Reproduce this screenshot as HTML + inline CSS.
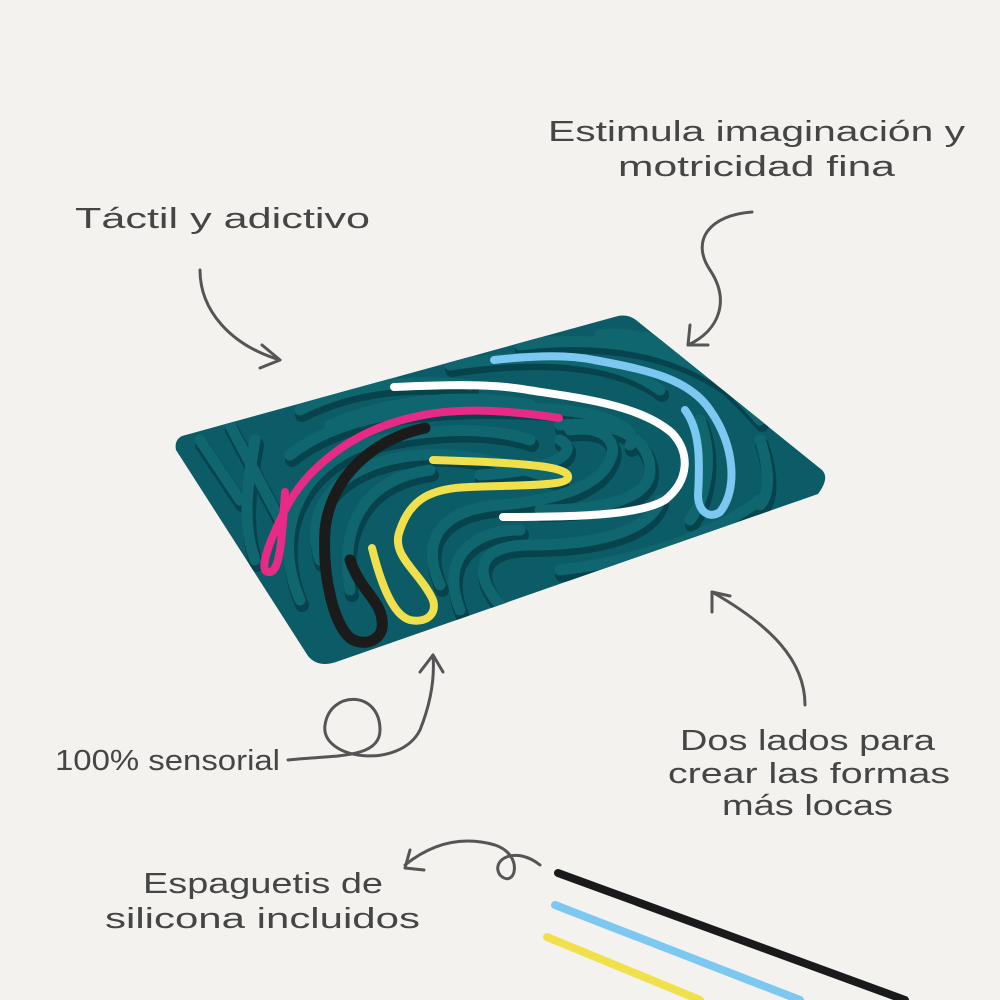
<!DOCTYPE html>
<html><head><meta charset="utf-8"><style>
html,body{margin:0;padding:0;background:#f3f2ef;}
svg{display:block}
text{font-family:"Liberation Sans",sans-serif;fill:#454545;font-size:29px}
</style></head><body>
<svg width="1000" height="1000" viewBox="0 0 1000 1000">
<defs>
<clipPath id="b"><path d="M182,436 L618,316 Q628,314 636,320 L822,470 Q830,478 818,494 L336,662 Q318,668 308,656 L176,450 Q174,440 182,436 Z"/></clipPath>
</defs>
<rect width="1000" height="1000" fill="#f3f2ef"/>
<path d="M182,436 L618,316 Q628,314 636,320 L822,470 Q830,478 818,494 L336,662 Q318,668 308,656 L176,450 Q174,440 182,436 Z" fill="#0c5c67"/>
<g clip-path="url(#b)" fill="none" stroke-linecap="round">
<g stroke="#06434c" stroke-width="14" transform="translate(2,5)">
<path d="M200,440 L240,500"/><path d="M230,425 L280,520"/><path d="M255,440 C250,470 240,520 255,560"/>
<path d="M300,410 C360,380 420,380 470,385"/><path d="M330,425 C400,395 480,395 530,405"/>
<path d="M290,455 C340,415 430,400 560,410 C620,415 640,435 630,445"/>
<path d="M300,600 C270,530 300,460 380,440 C450,425 500,430 530,440"/>
<path d="M320,560 C300,500 350,460 420,455 C480,452 520,470 560,480"/>
<path d="M350,590 C340,530 360,480 430,470"/>
<path d="M440,585 C420,540 440,510 500,505 C560,500 600,485 610,460 C620,440 600,425 570,430"/>
<path d="M460,610 C440,560 470,530 520,530"/><path d="M500,605 C470,570 480,545 530,545 C600,545 650,530 660,500"/>
<path d="M540,600 L610,575"/><path d="M560,425 C620,420 650,440 650,470 C650,500 600,510 540,510"/>
<path d="M450,365 C550,350 620,360 660,390"/><path d="M520,345 C600,335 680,345 740,395"/>
<path d="M600,335 C650,330 700,350 760,420"/><path d="M700,420 C715,460 705,500 690,520"/>
<path d="M760,440 C770,470 770,495 760,505"/><path d="M560,570 C650,560 720,530 760,500"/>
<path d="M600,590 C700,570 760,540 800,505"/><path d="M480,475 C560,470 580,450 560,440"/>
</g>
<g stroke="#10666f" stroke-width="11">
<path d="M200,440 L240,500"/><path d="M230,425 L280,520"/><path d="M255,440 C250,470 240,520 255,560"/>
<path d="M300,410 C360,380 420,380 470,385"/><path d="M330,425 C400,395 480,395 530,405"/>
<path d="M290,455 C340,415 430,400 560,410 C620,415 640,435 630,445"/>
<path d="M300,600 C270,530 300,460 380,440 C450,425 500,430 530,440"/>
<path d="M320,560 C300,500 350,460 420,455 C480,452 520,470 560,480"/>
<path d="M350,590 C340,530 360,480 430,470"/>
<path d="M440,585 C420,540 440,510 500,505 C560,500 600,485 610,460 C620,440 600,425 570,430"/>
<path d="M460,610 C440,560 470,530 520,530"/><path d="M500,605 C470,570 480,545 530,545 C600,545 650,530 660,500"/>
<path d="M540,600 L610,575"/><path d="M560,425 C620,420 650,440 650,470 C650,500 600,510 540,510"/>
<path d="M450,365 C550,350 620,360 660,390"/><path d="M520,345 C600,335 680,345 740,395"/>
<path d="M600,335 C650,330 700,350 760,420"/><path d="M700,420 C715,460 705,500 690,520"/>
<path d="M760,440 C770,470 770,495 760,505"/><path d="M560,570 C650,560 720,530 760,500"/>
<path d="M600,590 C700,570 760,540 800,505"/><path d="M480,475 C560,470 580,450 560,440"/>
</g>
</g>
<g fill="none" stroke-width="8" stroke-linecap="round" stroke-linejoin="round">
<path d="M559,418 C520,412 460,405 410,418 C350,432 305,470 285,510 C270,540 258,570 268,572 C280,574 282,540 285,492" stroke="#e62a86"/>
<path d="M425,428 C370,440 330,480 325,530 C322,580 335,625 350,638 C365,648 385,640 382,620 C380,600 360,590 350,560" stroke="#1b1b1b" stroke-width="11"/>
<path d="M372,548 C380,580 392,615 410,620 C430,624 438,610 432,598 C418,570 390,555 400,530 C410,500 430,488 470,487 C520,485 565,486 568,478 C570,468 540,463 433,460" stroke="#f0e04c"/>
<path d="M394,387 C440,385 490,383 528,390 C580,398 640,405 672,433 C690,452 690,480 665,500 C640,515 580,517 503,517" stroke="#ffffff"/>
<path d="M494,360 C540,355 570,355 594,360 C650,370 690,380 710,410 C735,445 738,490 720,512 C708,520 698,510 698,495 C700,460 700,430 685,410" stroke="#7cc8f0"/>
</g>
<g stroke-width="8" stroke-linecap="round">
<line x1="558" y1="873" x2="905" y2="1000" stroke="#1a1a1a"/>
<line x1="555" y1="905" x2="800" y2="1000" stroke="#7cc8f0"/>
<line x1="547" y1="937" x2="700" y2="1000" stroke="#f0e04c"/>
</g>
<g fill="none" stroke="#555" stroke-width="3" stroke-linecap="round" stroke-linejoin="round">
<path d="M200,270 C200,310 230,345 280,360"/><path d="M262,345 L280,360 L260,368"/>
<path d="M752,212 C710,215 690,240 710,270 C730,300 720,330 688,345"/><path d="M690,325 L688,345 L708,345"/>
<path d="M288,760 C330,755 380,760 380,730 C380,690 330,690 325,725 C320,760 400,770 420,730 C430,705 435,680 433,655"/><path d="M420,672 L433,655 L443,672"/>
<path d="M805,705 C805,660 770,625 712,592"/><path d="M712,612 L712,592 L730,596"/>
<path d="M540,865 C515,845 490,860 500,875 C515,890 525,855 495,845 C460,835 430,845 405,865"/><path d="M410,850 L405,868 L424,870"/>
</g>
<text x="75" y="228" textLength="295" lengthAdjust="spacingAndGlyphs">Táctil y adictivo</text>
<text x="548" y="141" textLength="417" lengthAdjust="spacingAndGlyphs">Estimula imaginación y</text>
<text x="618" y="176" textLength="277" lengthAdjust="spacingAndGlyphs">motricidad fina</text>
<text x="55" y="770" textLength="225" lengthAdjust="spacingAndGlyphs">100% sensorial</text>
<text x="680" y="750" textLength="255" lengthAdjust="spacingAndGlyphs">Dos lados para</text>
<text x="668" y="783" textLength="282" lengthAdjust="spacingAndGlyphs">crear las formas</text>
<text x="722" y="815" textLength="171" lengthAdjust="spacingAndGlyphs">más locas</text>
<text x="143" y="893" textLength="240" lengthAdjust="spacingAndGlyphs">Espaguetis de</text>
<text x="105" y="928" textLength="315" lengthAdjust="spacingAndGlyphs">silicona incluidos</text>
</svg>
</body></html>
